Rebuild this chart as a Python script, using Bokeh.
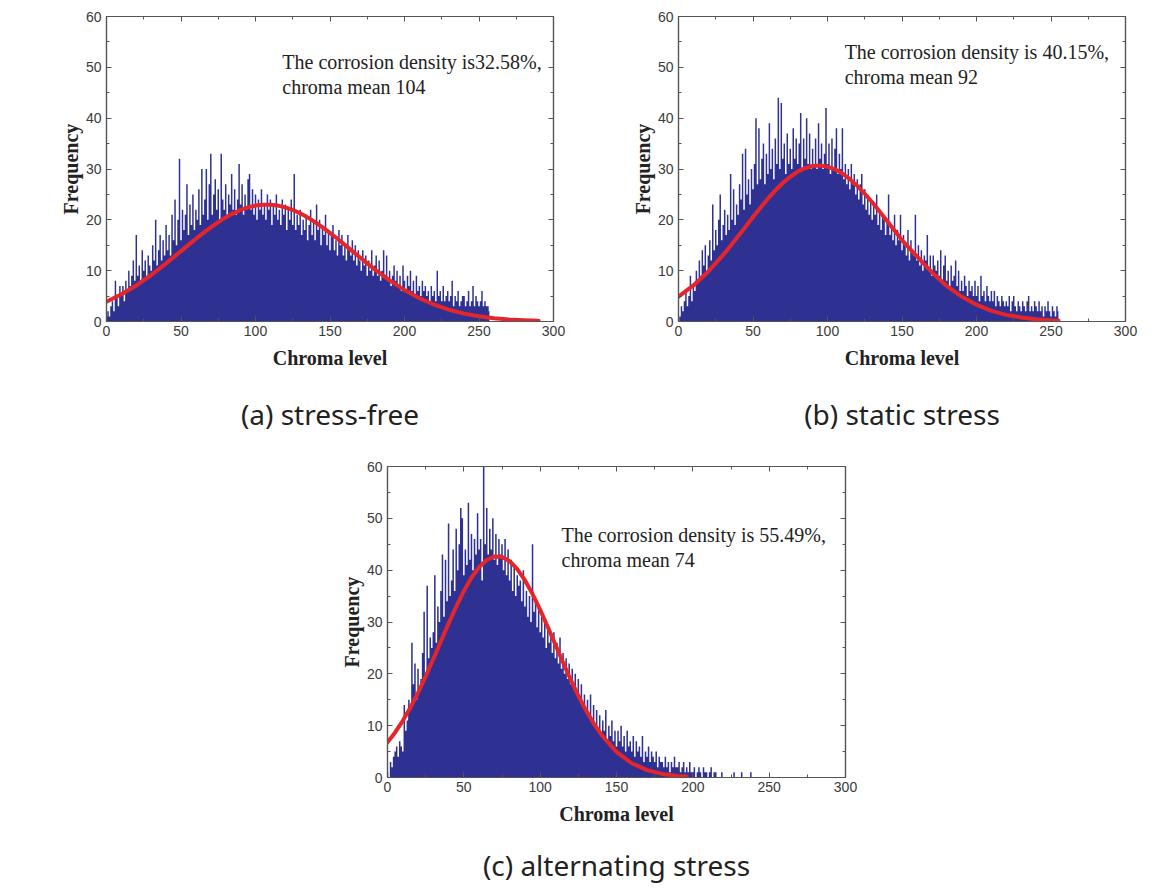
from bokeh.plotting import figure
from bokeh.layouts import column, row
from bokeh.models import SingleIntervalTicker, FixedTicker, LinearAxis, Range1d
from bokeh.core.properties import value
from bokeh.embed import file_html
from bokeh.resources import INLINE

# ---------------- data ----------------
# (a) stress-free : frequency per chroma level 0..257
freq_a = [
    1, 2, 1, 3, 4, 2, 8, 5, 3, 7,
    5, 7, 4, 8, 6, 10, 7, 9, 12, 8,
    17, 9, 11, 8, 14, 10, 12, 9, 13, 11,
    10, 15, 12, 20, 11, 14, 17, 12, 16, 13,
    19, 14, 17, 13, 21, 16, 24, 15, 20, 32,
    16, 22, 18, 21, 27, 17, 23, 19, 25, 18,
    22, 20, 26, 19, 30, 21, 24, 30, 20, 27,
    33, 21, 25, 28, 22, 26, 20, 33, 24, 22,
    27, 21, 25, 23, 29, 22, 26, 21, 24, 31,
    23, 27, 21, 25, 22, 28, 29, 22, 26, 21,
    25, 20, 24, 22, 26, 21, 23, 20, 25, 22,
    24, 19, 23, 21, 25, 20, 22, 19, 24, 21,
    23, 18, 22, 20, 24, 19, 29, 18, 21, 19,
    22, 17, 20, 18, 21, 16, 19, 22, 17, 20,
    16, 23, 18, 20, 15, 19, 17, 21, 15, 18,
    14, 17, 19, 14, 16, 13, 18, 15, 17, 13,
    15, 12, 17, 14, 13, 16, 12, 15, 11, 14,
    12, 10, 14, 11, 13, 9, 12, 10, 14, 9,
    11, 13, 9, 12, 8, 10, 14, 9, 13, 8,
    10, 7, 9, 11, 8, 10, 7, 9, 6, 11,
    8, 6, 9, 7, 10, 6, 8, 5, 9, 6,
    7, 5, 8, 6, 7, 5, 6, 4, 7, 5,
    6, 4, 10, 5, 6, 4, 7, 4, 5, 6,
    4, 5, 8, 3, 5, 4, 6, 3, 4, 5,
    5, 3, 4, 6, 3, 4, 7, 3, 5, 4,
    3, 4, 6, 3, 4, 3, 3, 2,
]
levels_a = list(range(len(freq_a)))
fit_x_a = [0, 10, 20, 30, 40, 45, 50, 55, 60, 65, 70, 75, 80, 85, 90, 95, 100, 105,
           110, 115, 120, 125, 130, 135, 140, 145, 150, 155, 160, 165, 170, 175,
           180, 190, 200, 210, 220, 230, 240, 250, 260, 270, 280, 290]
fit_y_a = [3.90, 5.35, 7.10, 9.15, 11.43, 12.63, 13.85, 15.07, 16.27, 17.43, 18.53,
           19.56, 20.48, 21.28, 21.94, 22.45, 22.80, 22.98, 22.98, 22.80, 22.45,
           21.94, 21.28, 20.48, 19.56, 18.53, 17.43, 16.27, 15.07, 13.85, 12.63,
           11.43, 10.26, 8.09, 6.18, 4.58, 3.30, 2.30, 1.55, 1.02, 0.65, 0.40,
           0.24, 0.14]
note_a = ["The corrosion density is32.58%,", "chroma mean 104"]
caption_a = "(a) stress-free"

# (b) static stress : frequency per chroma level 0..255
freq_b = [
    0, 1, 3, 2, 4, 6, 3, 5, 9, 4,
    7, 6, 10, 8, 12, 9, 14, 11, 15, 10,
    13, 16, 12, 23, 14, 18, 15, 20, 25, 16,
    19, 22, 17, 21, 18, 29, 20, 26, 19, 23,
    21, 27, 24, 33, 22, 34, 25, 28, 23, 30,
    26, 31, 40, 27, 38, 28, 32, 35, 27, 33,
    29, 39, 30, 34, 28, 36, 31, 44, 30, 43,
    32, 35, 29, 37, 31, 34, 30, 38, 32, 36,
    31, 35, 41, 30, 36, 32, 40, 31, 37, 30,
    34, 31, 36, 30, 39, 32, 35, 30, 33, 42,
    31, 35, 29, 36, 30, 34, 38, 29, 33, 30,
    38, 28, 31, 27, 30, 26, 31, 27, 29, 25,
    28, 24, 27, 29, 23, 26, 22, 25, 21, 24,
    20, 23, 21, 25, 19, 22, 18, 21, 20, 17,
    20, 25, 17, 19, 16, 21, 15, 18, 16, 21,
    14, 17, 15, 13, 18, 12, 16, 14, 13, 21,
    12, 15, 11, 14, 10, 13, 12, 17, 10, 13,
    9, 13, 11, 10, 12, 9, 14, 8, 11, 13,
    8, 10, 7, 11, 8, 9, 12, 7, 10, 6,
    8, 6, 9, 7, 5, 8, 6, 7, 5, 8,
    5, 7, 4, 9, 5, 6, 4, 7, 5, 4,
    6, 4, 6, 3, 5, 4, 3, 5, 4, 3,
    4, 3, 5, 2, 4, 5, 3, 2, 4, 3,
    2, 4, 3, 2, 4, 5, 2, 3, 2, 4,
    3, 2, 4, 2, 3, 1, 3, 2, 4, 2,
    1, 3, 2, 1, 3, 2,
]
levels_b = list(range(len(freq_b)))
fit_x_b = [0, 10, 20, 30, 35, 40, 45, 50, 55, 60, 65, 70, 75, 80, 85, 90, 95, 100,
           105, 110, 115, 120, 125, 130, 135, 140, 145, 150, 155, 160, 170, 180,
           190, 200, 210, 220, 230, 240, 250, 255]
fit_y_b = [4.90, 7.09, 9.85, 13.11, 14.90, 16.76, 18.64, 20.54, 22.38, 24.15, 25.78,
           27.24, 28.48, 29.48, 30.19, 30.60, 30.70, 30.47, 29.94, 29.11, 28.01,
           26.68, 25.14, 23.45, 21.65, 19.78, 17.89, 16.01, 14.4, 12.8, 9.7, 7.0,
           4.9, 3.3, 2.1, 1.3, 0.8, 0.45, 0.25, 0.2]
note_b = ["The corrosion density is 40.15%,", "chroma mean 92"]
caption_b = "(b) static stress"

# (c) alternating stress : frequency per chroma level 0..240
freq_c = [
    1, 0, 3, 2, 4, 5, 6, 4, 7, 6,
    5, 14, 9, 11, 15, 13, 26, 18, 22, 15,
    21, 17, 19, 24, 32, 20, 37, 23, 27, 25,
    28, 39, 26, 33, 30, 36, 43, 31, 42, 34,
    49, 35, 38, 44, 36, 48, 40, 45, 52, 50,
    39, 44, 41, 53, 42, 47, 40, 46, 43, 51,
    44, 46, 38, 60, 45, 52, 43, 48, 44, 50,
    42, 47, 41, 46, 43, 45, 40, 46, 39, 44,
    38, 42, 36, 41, 35, 39, 37, 38, 34, 40,
    33, 36, 31, 35, 30, 45, 32, 34, 29, 33,
    28, 31, 27, 30, 25, 29, 26, 28, 24, 28,
    23, 26, 22, 27, 21, 24, 20, 23, 19, 22,
    18, 21, 17, 20, 16, 19, 15, 18, 14, 16,
    13, 15, 12, 16, 11, 14, 10, 13, 9, 12,
    8, 11, 9, 13, 7, 10, 8, 11, 7, 9,
    6, 9, 7, 10, 6, 8, 5, 9, 6, 7,
    5, 8, 4, 7, 5, 6, 4, 8, 3, 5,
    4, 6, 3, 5, 4, 3, 5, 2, 4, 3,
    3, 2, 4, 2, 3, 1, 3, 2, 4, 2,
    2, 3, 1, 2, 3, 1, 2, 1, 3, 1,
    1, 2, 0, 1, 2, 1, 0, 2, 1, 1,
    0, 1, 2, 0, 1, 1, 0, 0, 0, 1,
    0, 0, 0, 0, 0, 0, 0, 1, 0, 0,
    0, 0, 1, 0, 0, 0, 0, 0, 1, 0, 0,
]
levels_c = list(range(len(freq_c)))
fit_x_c = [0, 5, 10, 15, 20, 25, 30, 35, 40, 45, 50, 55, 60, 65, 70, 75, 80, 85, 90,
           95, 100, 105, 110, 115, 120, 125, 130, 135, 140, 150, 160, 170, 180,
           190, 196]
fit_y_c = [6.80, 8.70, 10.94, 13.50, 16.38, 19.52, 22.85, 26.29, 29.71, 32.98, 35.97,
           38.55, 40.58, 41.96, 42.64, 42.56, 41.74, 40.22, 38.07, 35.40, 32.35,
           29.03, 25.60, 22.17, 18.87, 15.78, 12.96, 10.46, 8.30, 4.94, 2.75, 1.42,
           0.69, 0.31, 0.18]
note_c = ["The corrosion density is 55.49%,", "chroma mean 74"]
caption_c = "(c) alternating stress"

x_label = "Chroma level"
y_label = "Frequency"

# ---------------- styling ----------------
BAR = "#2E3192"
RED = "#E5252A"
AXC = "#555555"
TXT = "#3a3a3a"


def style_axis(ax, show_labels):
    ax.axis_line_color = AXC
    ax.axis_line_width = 1.2
    ax.major_tick_line_color = AXC
    ax.minor_tick_line_color = AXC
    ax.major_tick_in = 5
    ax.major_tick_out = 0
    ax.minor_tick_in = 3
    ax.minor_tick_out = 0
    if show_labels:
        ax.major_label_text_font = "Liberation Sans"
        ax.major_label_text_font_size = "14px"
        ax.major_label_text_color = TXT
    else:
        ax.major_label_text_font_size = "1px"
        ax.major_label_text_color = None
        ax.major_label_standoff = 0


def make_panel(levels, freq, fit_x, fit_y, note, note_x, note_y, caption,
               cap_gap, fw, fh, bl, br, bt, bb):
    p = figure(frame_width=fw, frame_height=fh,
               x_range=Range1d(0, 300), y_range=Range1d(0, 60),
               output_backend="svg", toolbar_location=None, title=None,
               min_border_left=bl, min_border_right=br,
               min_border_top=bt, min_border_bottom=bb)
    p.background_fill_color = "white"
    p.border_fill_color = "white"
    p.outline_line_color = AXC
    p.outline_line_width = 1.2
    p.xgrid.visible = False
    p.ygrid.visible = False

    # histogram drawn as one stepped area so that neighbouring bins leave no seams
    p.varea_step(x=levels, y1=0, y2=freq, step_mode="center", fill_color=BAR)
    p.line(fit_x, fit_y, line_color=RED, line_width=4,
           line_join="round", line_cap="round")

    p.text(x=[note_x, note_x], y=note_y, text=note,
           text_font=value("Liberation Serif"), text_font_size="20px",
           text_color="#222222", text_align="left", text_baseline="middle")

    xa = p.xaxis[0]
    ya = p.yaxis[0]
    xa.ticker = SingleIntervalTicker(interval=50, num_minor_ticks=2)
    ya.ticker = SingleIntervalTicker(interval=10, num_minor_ticks=2)
    style_axis(xa, True)
    style_axis(ya, True)
    xa.major_label_standoff = 4
    ya.major_label_standoff = 5
    xa.axis_label = x_label
    ya.axis_label = y_label
    for ax, so in ((xa, 8), (ya, 1)):
        ax.axis_label_text_font = "Liberation Serif"
        ax.axis_label_text_font_style = "bold"
        ax.axis_label_text_font_size = "20px"
        ax.axis_label_text_color = "#222222"
        ax.axis_label_standoff = so

    top = LinearAxis(ticker=SingleIntervalTicker(interval=50, num_minor_ticks=2))
    right = LinearAxis(ticker=SingleIntervalTicker(interval=10, num_minor_ticks=2))
    style_axis(top, False)
    style_axis(right, False)
    p.add_layout(top, "above")
    p.add_layout(right, "right")

    # caption: axis label of a tick-less axis under the main x axis
    cap = LinearAxis(ticker=FixedTicker(ticks=[]), axis_label=caption,
                     bounds=(0, 286))
    cap.axis_line_color = None
    cap.major_tick_line_color = None
    cap.minor_tick_line_color = None
    cap.major_tick_out = 0
    cap.major_tick_in = 0
    cap.major_label_standoff = 0
    cap.major_label_text_font_size = "1px"
    cap.major_label_text_color = None
    cap.axis_label_standoff = cap_gap
    cap.axis_label_text_font = "Noto Sans"
    cap.axis_label_text_font_style = "normal"
    cap.axis_label_text_font_size = "28px"
    cap.axis_label_text_color = "#222222"
    p.add_layout(cap, "below")
    return p


fig_a = make_panel(levels_a, freq_a, fit_x_a, fit_y_a, note_a, 118, [51.0, 46.1],
                   caption_a, 23, 447, 305, 106, 57, 16, 125)
fig_b = make_panel(levels_b, freq_b, fit_x_b, fit_y_b, note_b, 111.5, [53.0, 48.1],
                   caption_b, 23, 447, 305, 68, 36, 16, 125)
fig_c = make_panel(levels_c, freq_c, fit_x_c, fit_y_c, note_c, 114, [46.7, 41.9],
                   caption_c, 18, 458, 311, 387, 60, 20, 110)

layout = column(row(fig_a, fig_b), fig_c)

open("out.html", "w").write(file_html(layout, INLINE))
